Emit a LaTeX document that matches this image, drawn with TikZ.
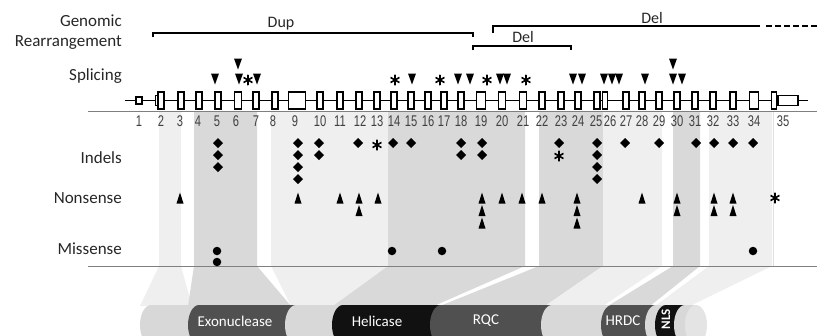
\documentclass[tikz,border=0pt]{standalone}
\usepackage{fontspec}
\setmainfont{Carlito}
\newfontfamily\numfont[FakeStretch=0.72]{Liberation Sans}

\definecolor{bandlight}{HTML}{EFEFEF}
\definecolor{bandmid}{HTML}{D9D9D9}
\definecolor{seglight}{HTML}{D8D8D8}
\definecolor{segface}{HTML}{E4E4E4}
\definecolor{segdark}{HTML}{505050}
\definecolor{segblack}{HTML}{111111}
\definecolor{rulegray}{HTML}{808080}

\tikzset{
 exon/.style={draw,fill=white,line width=1.3pt,inner sep=0pt,minimum width=6pt,minimum height=17pt},
 rowlab/.style={anchor=base east,text=black!85,inner sep=0pt},
 exnum/.style={font=\numfont\fontsize{15.5}{17}\selectfont,text=black!75,inner sep=0pt},
 downtri/.style={inner sep=0pt,minimum width=8pt,minimum height=11pt,path picture={\fill (path picture bounding box.north west) -- (path picture bounding box.north east) -- (path picture bounding box.south) -- cycle;}},
 uptri/.style={inner sep=0pt,minimum width=7pt,minimum height=11pt,path picture={\fill (path picture bounding box.south west) -- (path picture bounding box.south east) -- (path picture bounding box.north) -- cycle;}},
 indel/.style={inner sep=0pt,minimum width=10pt,minimum height=10pt,path picture={\fill (path picture bounding box.north) -- (path picture bounding box.east) -- (path picture bounding box.south) -- (path picture bounding box.west) -- cycle;}},
 miss/.style={circle,fill,inner sep=0pt,minimum size=8.5pt},
 astk/.style={circle,inner sep=0pt,minimum size=11pt,path picture={\foreach \a in {90,30,150} \draw[line width=1.6pt] (path picture bounding box.center) +(\a:6pt) -- +(\a+180:6pt);}},
 domtext/.style={text=white,font=\fontsize{15}{18}\selectfont},
 rearr/.style={font=\fontsize{16}{18}\selectfont,anchor=base,text=black!85},
 bracket/.style={line width=1.4pt},
}

\newcommand{\domseg}[3]{\fill[#1] (#2,-305) arc[start angle=90,end angle=270,x radius=11,y radius=20] -- (#3,-345) -- (#3,-305) -- cycle;}

\begin{document}
\begin{tikzpicture}[x=1pt,y=1pt,font=\fontsize{17}{20}\selectfont]
 \useasboundingbox (0,0) rectangle (817,-335);
 \clip (0,0) rectangle (817,-335);

 % bands from exons down to the protein
 \fill[bandlight] (159,-112) -- (181,-112) -- (181,-266) -- (192,-306) -- (140,-306) -- (159,-266) -- cycle;
 \fill[bandmid] (194,-112) -- (257,-112) -- (257,-266) -- (291,-306) -- (188,-306) -- (194,-266) -- cycle;
 \fill[bandlight] (271,-112) -- (388,-112) -- (388,-266) -- (333,-306) -- (291,-306) -- (271,-266) -- cycle;
 \fill[bandmid] (388,-112) -- (525,-112) -- (525,-266) -- (434,-306) -- (333,-306) -- (388,-266) -- cycle;
 \fill[bandmid] (539,-112) -- (603,-112) -- (603,-266) -- (545,-306) -- (440,-306) -- (539,-266) -- cycle;
 \fill[bandlight] (603,-112) -- (662,-112) -- (662,-266) -- (603,-306) -- (545,-306) -- (603,-266) -- cycle;
 \fill[bandmid] (673,-112) -- (700,-112) -- (700,-266) -- (650,-306) -- (608,-306) -- (673,-266) -- cycle;
 \fill[bandlight] (709,-112) -- (772,-112) -- (772,-266) -- (690,-306) -- (655,-306) -- (709,-266) -- cycle;
 \draw[black!12] (773,-112) -- (773,-266);

 \draw[rulegray,line width=1pt] (88,-111.5) -- (817,-111.5);
 \draw[rulegray,line width=1pt] (88,-266.5) -- (817,-266.5);

 % protein
 \domseg{seglight}{151}{199}
 \domseg{segdark}{199}{296}
 \domseg{seglight}{296}{343}
 \domseg{segblack}{343}{441}
 \domseg{segdark}{441}{552}
 \domseg{seglight}{552}{612}
 \domseg{segdark}{612}{656}
 \domseg{seglight}{656}{666}
 \domseg{segblack}{666}{685}
 \domseg{seglight}{685}{696}
 \fill[segface] (696,-325) ellipse[x radius=11,y radius=20];
 \node[domtext] (exo) at (235,-321) {Exonuclease};
 \node[domtext] (hel) at (377,-321) {Helicase};
 \node[domtext] (rqc) at (486,-321) {RQC};
 \node[domtext] (hrdc) at (623,-321) {HRDC};
 \node[domtext,rotate=90,font=\fontsize{13}{15}\selectfont\bfseries] (nls) at (666,-319) {NLS};

 % row labels
 \node[rowlab] (lgen) at (122,-26) {Genomic};
 \node[rowlab] (lrea) at (122,-46) {Rearrangement};
 \node[rowlab] (lspl) at (122,-80) {Splicing};
 \node[rowlab] (lind) at (122,-163) {Indels};
 \node[rowlab] (lnon) at (122,-203) {Nonsense};
 \node[rowlab] (lmis) at (122,-254) {Missense};

 % rearrangements
 \draw[bracket] (153,-37) -- (153,-33) -- (473,-33) -- (473,-37);
 \node[rearr] (dup) at (281,-27) {Dup};
 \draw[bracket] (493,-33) -- (493,-26) -- (760,-26);
 \draw[bracket,dash pattern=on 6pt off 3pt] (766,-26) -- (817,-26);
 \node[rearr] (del1) at (652,-23) {Del};
 \draw[bracket] (473,-50) -- (473,-46) -- (571,-46) -- (571,-50);
 \node[rearr] (del2) at (523,-42) {Del};

 % gene
 \coordinate (gL) at (125,-100.5);
 \coordinate (gR) at (808,-100.5);
 \draw[line width=1.3pt] (gL) -- (gR);
 \node[exon,minimum height=7pt] (e1) at (139,-100.5) {};
 \node[exnum] (n1) at (139,-121.5) {1};
 \node[exon,minimum width=3pt,minimum height=10pt] (e2u) at (157,-100.5) {};
 \foreach \n/\x/\w/\l in {2/161/6/161,3/181/6/180,4/199/6/198,5/218/6/217,6/238/7/236,
   7/256/6/256,8/275/6/273,9/297/17/295,10/320/6/320,11/340/6/340,12/359/6/360,
   13/377/6/377,14/394/6/394,15/411/6/411,16/428/6/428,17/444/6/444,18/461/6/461,
   19/481/9/481,20/502/7/502,21/523/7/523,22/542/6/542,23/561/6/561,24/578/6/578,
   25/597/6/596,26/605/5/610,27/626/6/626,28/642/6/642,29/659/6/659,30/677/6/677,
   31/695/6/695,32/713/6/713,33/733/6/733,34/754/9/754}
 {
  \node[exon,minimum width=\w pt] (e\n) at (\x,-100.5) {};
  \node[exnum] (n\n) at (\l,-121.5) {\n};
 }
 \node[exon,minimum width=5pt] (e35) at (774,-100.5) {};
 \node[exon,minimum width=20pt,minimum height=10pt] (e35b) at (788,-100.5) {};
 \node[exnum] (n35) at (783,-121.5) {35};

 % splicing
 \foreach \x [count=\i] in {215,239,257,412,458,470,500,507,573,582,604,612,619,645,673,682}
  \node[downtri] (s\i) at (\x,-79) {};
 \node[downtri] (st1) at (238,-64) {};
 \node[downtri] (st2) at (673,-64) {};
 \foreach \x [count=\i] in {248,395,440,487,526}
  \node[astk] (sa\i) at (\x,-80) {};

 % indels
 \foreach \x/\k [count=\i] in {218/3,298/4,319/2,358/1,393/1,411/1,461/2,482/2,
   559/1,597/4,625/1,659/1,696/1,714/1,733/1,753/1}
  \foreach \j in {1,...,\k}
   \node[indel] (d\i-\j) at (\x,{-143-12*(\j-1)}) {};
 \node[astk] (da1) at (377,-145) {};
 \node[astk] (da2) at (559,-156) {};

 % nonsense
 \foreach \x/\k [count=\i] in {180/1,298/1,340/1,359/2,378/1,482/3,502/1,522/1,
   542/1,577/3,642/1,677/2,714/2,733/2}
  \foreach \j in {1,...,\k}
   \node[uptri] (t\i-\j) at (\x,{-198-12.5*(\j-1)}) {};
 \node[astk] (ta1) at (775,-198) {};

 % missense
 \foreach \x/\k [count=\i] in {217/2,392/1,442/1,753/1}
  \foreach \j in {1,...,\k}
   \node[miss] (m\i-\j) at (\x,{-251-11*(\j-1)}) {};
\end{tikzpicture}
\end{document}
